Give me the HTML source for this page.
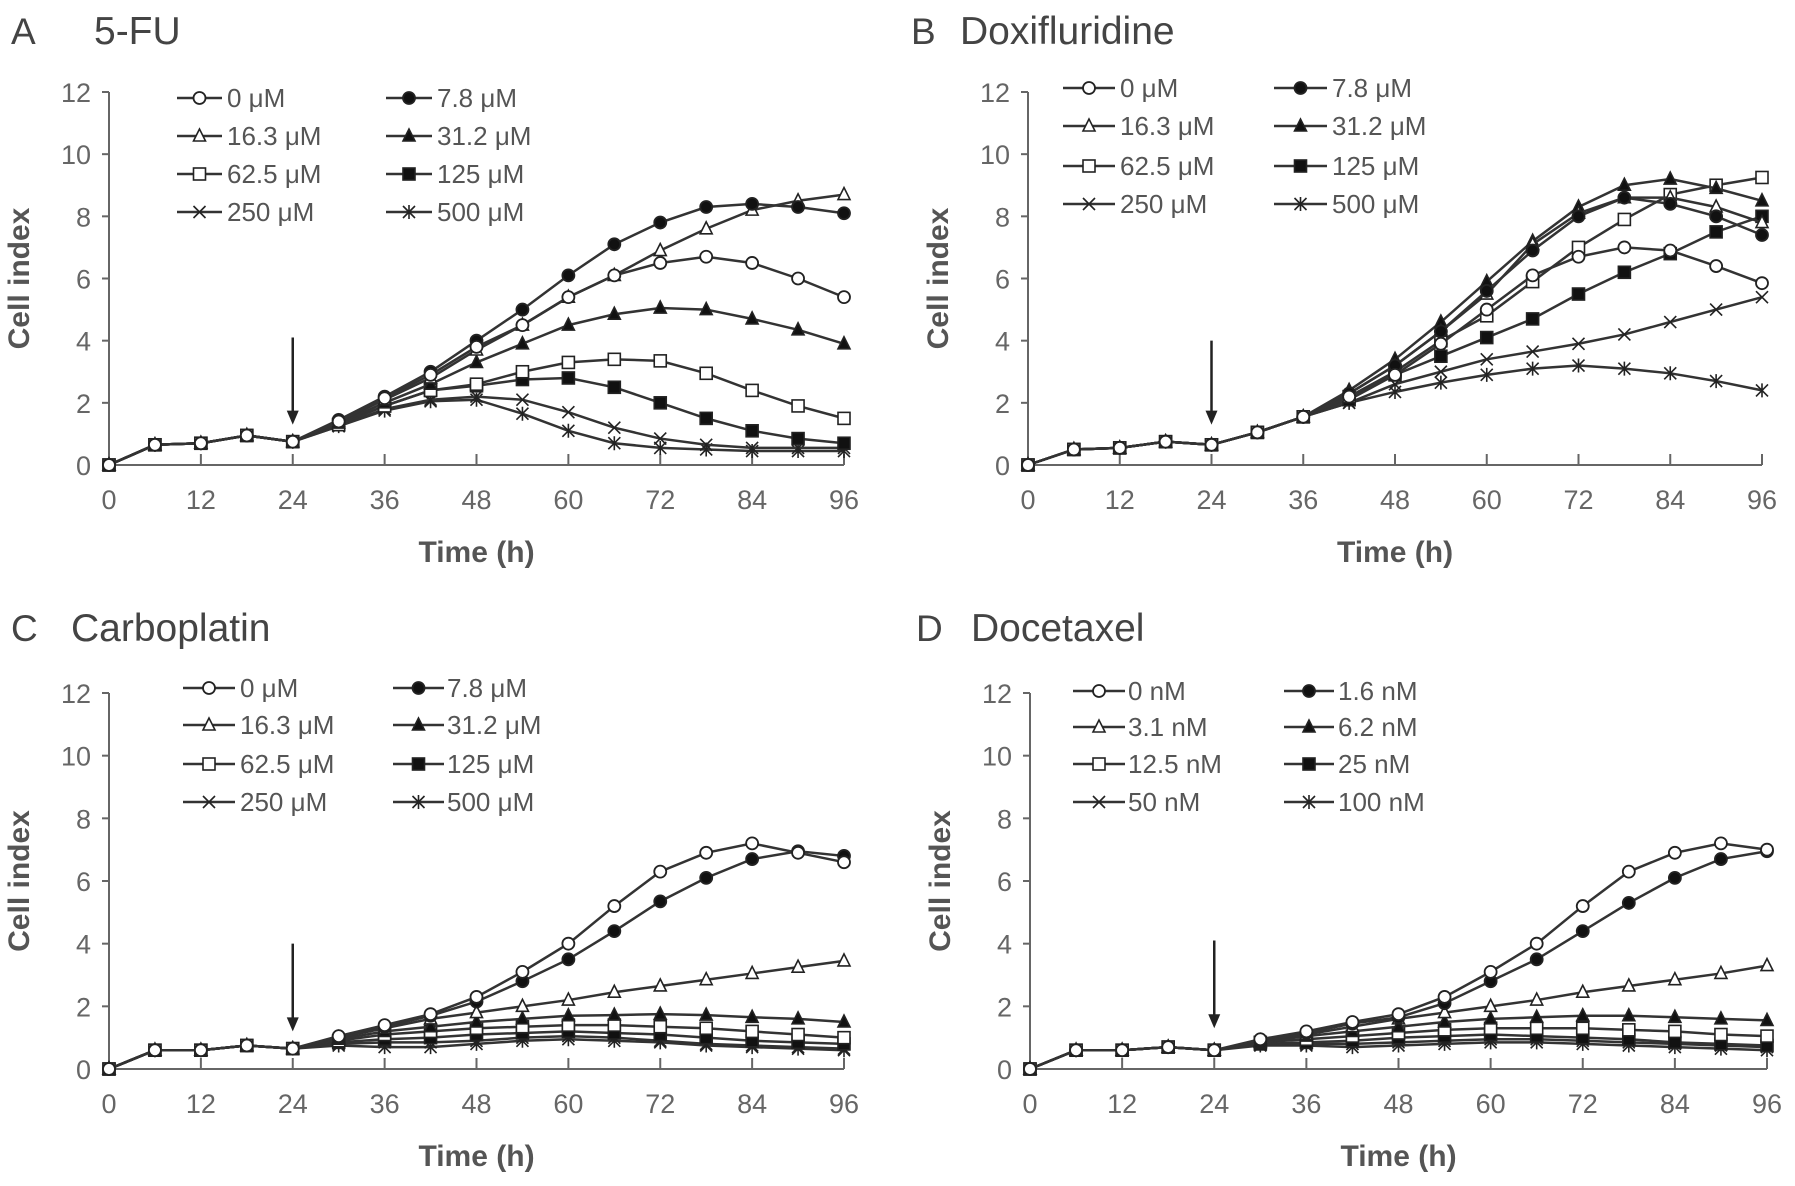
<!DOCTYPE html>
<html><head><meta charset="utf-8">
<style>
html,body{margin:0;padding:0;background:#fff;}
svg{display:block;font-family:"Liberation Sans",sans-serif;}
</style></head>
<body>
<svg id="fig" width="1795" height="1186" viewBox="0 0 1795 1186" xmlns="http://www.w3.org/2000/svg"></svg>
<script>
const times=[0,6,12,18,24,30,36,42,48,54,60,66,72,78,84,90,96];
const yTicks=[0,2,4,6,8,10,12];
const xTicks=[0,12,24,36,48,60,72,84,96];
const markers=['oc','fc','ot','ft','os','fs','x','star'];

const labelsA=['0 μM','7.8 μM','16.3 μM','31.2 μM','62.5 μM','125 μM','250 μM','500 μM'];
const labelsD=['0 nM','1.6 nM','3.1 nM','6.2 nM','12.5 nM','25 nM','50 nM','100 nM'];

const A0=[0,0.65,0.7,0.95,0.75,1.4,2.15,2.9,3.8,4.5,5.4,6.1,6.5,6.7,6.5,6.0,5.4];
const A1=[0,0.65,0.7,0.95,0.75,1.45,2.2,3.0,4.0,5.0,6.1,7.1,7.8,8.3,8.4,8.3,8.1];
const A2=[0,0.65,0.7,0.95,0.75,1.4,2.1,2.8,3.7,4.5,5.4,6.1,6.9,7.6,8.2,8.5,8.7];
const A3=[0,0.65,0.7,0.95,0.75,1.35,2.0,2.6,3.3,3.9,4.5,4.85,5.05,5.0,4.7,4.35,3.9];
const A4=[0,0.65,0.7,0.95,0.75,1.3,1.9,2.4,2.6,3.0,3.3,3.4,3.35,2.95,2.4,1.9,1.5];
const A5=[0,0.65,0.7,0.95,0.75,1.3,1.9,2.4,2.55,2.75,2.8,2.5,2.0,1.5,1.1,0.85,0.7];
const A6=[0,0.65,0.7,0.95,0.75,1.25,1.8,2.1,2.2,2.1,1.7,1.2,0.85,0.65,0.55,0.55,0.55];
const A7=[0,0.65,0.7,0.95,0.75,1.25,1.75,2.05,2.1,1.65,1.1,0.7,0.55,0.5,0.45,0.45,0.45];

const B0=[0,0.5,0.55,0.75,0.65,1.05,1.55,2.2,2.9,3.9,5.0,6.1,6.7,7.0,6.9,6.4,5.85];
const B1=[0,0.5,0.55,0.75,0.65,1.05,1.55,2.3,3.2,4.3,5.6,6.9,8.0,8.6,8.4,8.0,7.4];
const B2=[0,0.5,0.55,0.75,0.65,1.05,1.55,2.3,3.2,4.3,5.5,7.1,8.1,8.6,8.6,8.3,7.8];
const B3=[0,0.5,0.55,0.75,0.65,1.05,1.55,2.4,3.4,4.6,5.9,7.2,8.3,9.0,9.2,8.9,8.5];
const B4=[0,0.5,0.55,0.75,0.65,1.05,1.55,2.2,3.0,4.0,4.8,5.9,7.0,7.9,8.7,9.0,9.25];
const B5=[0,0.5,0.55,0.75,0.65,1.05,1.55,2.1,2.9,3.5,4.1,4.7,5.5,6.2,6.8,7.5,8.0];
const B6=[0,0.5,0.55,0.75,0.65,1.05,1.55,2.0,2.6,3.0,3.4,3.65,3.9,4.2,4.6,5.0,5.4];
const B7=[0,0.5,0.55,0.75,0.65,1.05,1.55,2.0,2.35,2.65,2.9,3.1,3.2,3.1,2.95,2.7,2.4];

const C0=[0,0.6,0.6,0.75,0.65,1.05,1.4,1.75,2.3,3.1,4.0,5.2,6.3,6.9,7.2,6.9,6.6];
const C1=[0,0.6,0.6,0.75,0.65,1.0,1.35,1.7,2.15,2.8,3.5,4.4,5.35,6.1,6.7,6.95,6.8];
const C2=[0,0.6,0.6,0.75,0.65,1.0,1.3,1.6,1.8,2.0,2.2,2.45,2.65,2.85,3.05,3.25,3.45];
const C3=[0,0.6,0.6,0.75,0.65,0.95,1.2,1.35,1.5,1.6,1.7,1.72,1.75,1.72,1.65,1.6,1.5];
const C4=[0,0.6,0.6,0.75,0.65,0.9,1.1,1.2,1.3,1.35,1.4,1.4,1.35,1.3,1.2,1.1,1.0];
const C5=[0,0.6,0.6,0.75,0.65,0.85,0.95,1.0,1.1,1.15,1.2,1.15,1.1,1.0,0.9,0.85,0.8];
const C6=[0,0.6,0.6,0.75,0.65,0.8,0.85,0.85,0.9,1.0,1.05,1.0,0.9,0.8,0.75,0.7,0.65];
const C7=[0,0.6,0.6,0.75,0.65,0.75,0.7,0.7,0.8,0.9,0.95,0.9,0.85,0.75,0.7,0.65,0.6];

const D0=[0,0.6,0.6,0.7,0.6,0.95,1.2,1.5,1.75,2.3,3.1,4.0,5.2,6.3,6.9,7.2,7.0];
const D1=[0,0.6,0.6,0.7,0.6,0.9,1.15,1.45,1.65,2.1,2.8,3.5,4.4,5.3,6.1,6.7,6.95];
const D2=[0,0.6,0.6,0.7,0.6,0.9,1.1,1.35,1.6,1.8,2.0,2.2,2.45,2.65,2.85,3.05,3.3];
const D3=[0,0.6,0.6,0.7,0.6,0.85,1.05,1.2,1.35,1.5,1.6,1.65,1.7,1.7,1.65,1.6,1.55];
const D4=[0,0.6,0.6,0.7,0.6,0.85,0.95,1.05,1.15,1.25,1.3,1.3,1.3,1.25,1.2,1.1,1.05];
const D5=[0,0.6,0.6,0.7,0.6,0.8,0.85,0.9,1.0,1.05,1.1,1.05,1.0,0.95,0.85,0.8,0.75];
const D6=[0,0.6,0.6,0.7,0.6,0.8,0.8,0.8,0.85,0.9,0.95,0.95,0.9,0.85,0.8,0.75,0.7];
const D7=[0,0.6,0.6,0.7,0.6,0.75,0.75,0.7,0.75,0.8,0.85,0.85,0.8,0.75,0.7,0.65,0.6];

const panels=[
 {id:'a',letter:'A',title:'5-FU',lx:11,tx:94,ty:44,x0:109,x1:844,y0:465,y1:92,series:[A0,A1,A2,A3,A4,A5,A6,A7],labels:labelsA,
  leg:{rows:[98,136,174,212],c1:[177,222,227],c2:[386,432,437]},arrow:[4.1,1.3]},
 {id:'b',letter:'B',title:'Doxifluridine',lx:911,tx:960,ty:44,x0:1028,x1:1762,y0:465,y1:92,series:[B0,B1,B2,B3,B4,B5,B6,B7],labels:labelsA,
  leg:{rows:[88,126,166,204],c1:[1063,1115,1120],c2:[1274,1327,1332]},arrow:[4.0,1.3]},
 {id:'c',letter:'C',title:'Carboplatin',lx:11,tx:71,ty:641,x0:109,x1:844,y0:1069,y1:693,series:[C0,C1,C2,C3,C4,C5,C6,C7],labels:labelsA,
  leg:{rows:[688,725,764,802],c1:[183,235,240],c2:[393,444,447]},arrow:[4.0,1.2]},
 {id:'d',letter:'D',title:'Docetaxel',lx:916,tx:971,ty:641,x0:1030,x1:1767,y0:1069,y1:693,series:[D0,D1,D2,D3,D4,D5,D6,D7],labels:labelsD,
  leg:{rows:[691,727,764,802],c1:[1073,1125,1128],c2:[1284,1334,1338]},arrow:[4.1,1.3]}
];

const NS='http://www.w3.org/2000/svg';
const svg=document.getElementById('fig');
function mk(tag,attrs,parent){const e=document.createElementNS(NS,tag);for(const k in attrs)e.setAttribute(k,attrs[k]);(parent||svg).appendChild(e);return e;}

function drawMarker(g,type,cx,cy){
  const r=6,s='#222';
  let e;
  if(type==='oc'||type==='fc'){e=mk('circle',{cx:cx,cy:cy,r:r,fill:type==='fc'?'#111':'#fff',stroke:s,'stroke-width':1.8},g);}
  else if(type==='ot'||type==='ft'){e=mk('polygon',{points:`${cx},${cy-r-1} ${cx-r},${cy+r-1} ${cx+r},${cy+r-1}`,fill:type==='ft'?'#111':'#fff',stroke:s,'stroke-width':1.6},g);}
  else if(type==='os'||type==='fs'){e=mk('rect',{x:cx-r,y:cy-r,width:2*r,height:2*r,fill:type==='fs'?'#111':'#fff',stroke:s,'stroke-width':1.6},g);}
  else {
    e=mk('path',{d:`M${cx-r} ${cy-r}L${cx+r} ${cy+r}M${cx-r} ${cy+r}L${cx+r} ${cy-r}`+(type==='star'?`M${cx} ${cy-r-1}L${cx} ${cy+r+1}`:''),stroke:s,'stroke-width':1.6,fill:'none'},g);
  }
  
  
}

panels.forEach(p=>{
  const g=mk('g',{});
  
  
  const X=t=>p.x0+(t/96)*(p.x1-p.x0);
  const Y=v=>p.y0+(v/12)*(p.y1-p.y0);
  let t=mk('text',{x:p.lx,y:p.ty,'font-size':37,fill:'#444'},g);t.textContent=p.letter;
  
  t=mk('text',{x:p.tx,y:p.ty,'font-size':39,fill:'#444'},g);t.textContent=p.title;
  
  const ax=mk('path',{d:`M${p.x0} ${Y(12)}L${p.x0} ${p.y0}L${p.x1} ${p.y0}`,stroke:'#666','stroke-width':2,fill:'none'},g);
  
  yTicks.forEach(v=>{
    mk('line',{x1:p.x0-7,x2:p.x0,y1:Y(v),y2:Y(v),stroke:'#666','stroke-width':2},g);
    const l=mk('text',{x:p.x0-18,y:Y(v)+10,'font-size':27,fill:'#666','text-anchor':'end'},g);l.textContent=v;
    
  });
  xTicks.forEach(v=>{
    mk('line',{x1:X(v),x2:X(v),y1:p.y0,y2:p.y0-11,stroke:'#666','stroke-width':2},g);
    const l=mk('text',{x:X(v),y:p.y0+44,'font-size':27,fill:'#666','text-anchor':'middle'},g);l.textContent=v;
    
  });
  let xt=mk('text',{x:(p.x0+p.x1)/2,y:p.y0+97,'font-size':30,'font-weight':'bold',fill:'#555','text-anchor':'middle'},g);xt.textContent='Time (h)';
  
  const cy=(p.y0+Y(12))/2, cx=p.x0-80;
  let yt=mk('text',{x:cx,y:cy,'font-size':30,'font-weight':'bold',fill:'#555','text-anchor':'middle',transform:`rotate(-90 ${cx} ${cy})`},g);yt.textContent='Cell index';
  
  const ar=mk('g',{},g);
  mk('line',{x1:X(24),x2:X(24),y1:Y(p.arrow[0]),y2:Y(p.arrow[1])-10,stroke:'#222','stroke-width':2.5},ar);
  mk('polygon',{points:`${X(24)-6},${Y(p.arrow[1])-14} ${X(24)+6},${Y(p.arrow[1])-14} ${X(24)},${Y(p.arrow[1])}`,fill:'#222'},ar);
  for(let i=p.series.length-1;i>=0;i--){
    const s=p.series[i];
    const sg=mk('g',{},g);
    
    
    const pts=s.map((v,j)=>`${X(times[j])},${Y(v)}`).join(' ');
    mk('polyline',{points:pts,fill:'none',stroke:'#333','stroke-width':2.5},sg);
    s.forEach((v,j)=>drawMarker(sg,markers[i],X(times[j]),Y(v)));
  }
  const lg=mk('g',{},g);
  p.labels.forEach((lab,i)=>{
    const row=p.leg.rows[Math.floor(i/2)], c=i%2===0?p.leg.c1:p.leg.c2;
    const eg=mk('g',{},lg);
    mk('line',{x1:c[0],x2:c[1],y1:row,y2:row,stroke:'#333','stroke-width':2.5},eg);
    drawMarker(eg,markers[i],(c[0]+c[1])/2,row);
    const tx=mk('text',{x:c[2],y:row+9,'font-size':26,fill:'#555'},eg);tx.textContent=lab;
  });
});
</script>
</body></html>
